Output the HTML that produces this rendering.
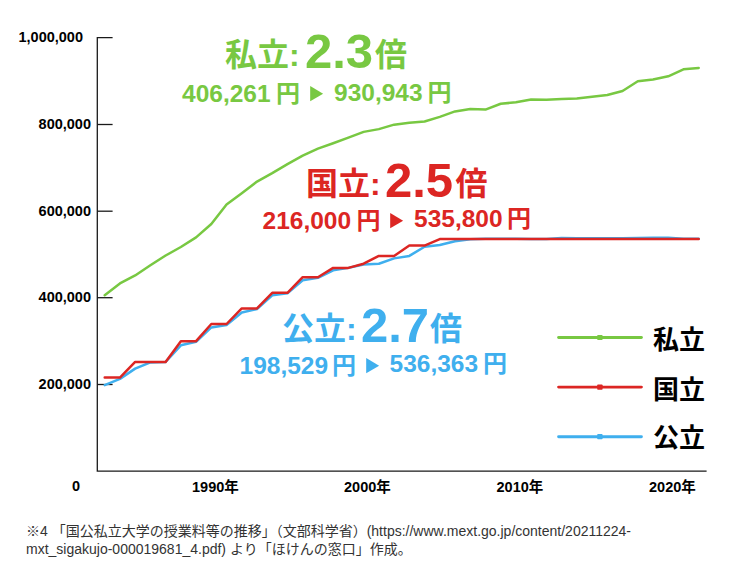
<!DOCTYPE html>
<html lang="ja"><head><meta charset="utf-8"><title>国公私立大学の授業料等の推移</title>
<style>
html,body{margin:0;padding:0;background:#fff;}
body{width:746px;height:583px;overflow:hidden;font-family:"Liberation Sans","Noto Sans CJK JP",sans-serif;}
#chart{position:relative;width:746px;height:583px;overflow:hidden;}
#chart svg{display:block;position:absolute;left:0;top:0;}
#chart svg text{font-family:"Liberation Sans","Noto Sans CJK JP",sans-serif;}
</style></head><body>
<div id="chart">
<svg width="746" height="583" viewBox="0 0 746 583" role="img" aria-label="国公私立大学の授業料等の推移">
<g fill="none" stroke="#1a1a1a" stroke-width="1.3">
<path d="M112.6 37.7H97.3V471.05H706.6"/>
<path d="M97.3 124.5H112.6"/>
<path d="M97.3 211.2H112.6"/>
<path d="M97.3 297.7H112.6"/>
<path d="M97.3 384.5H112.6"/>
</g>
<g fill="none" stroke-width="2.5" stroke-linecap="round" stroke-linejoin="round">
<polyline stroke="#3fafee" points="104.70,385.09 119.93,378.90 135.16,368.66 150.39,362.39 165.62,361.93 180.85,345.31 196.08,341.73 211.32,327.43 226.55,325.08 241.78,312.56 257.01,309.04 272.24,295.32 287.47,293.19 302.70,280.33 317.93,277.87 333.16,270.30 348.39,267.89 363.62,264.50 378.85,263.73 394.08,258.37 409.32,255.94 424.55,246.79 439.78,244.97 455.01,241.31 470.24,239.34 485.47,238.86 500.70,238.77 515.93,238.69 531.16,238.98 546.39,238.98 561.62,238.11 576.85,238.13 592.08,238.16 607.32,238.16 622.55,238.18 637.78,237.97 653.01,237.82 668.24,237.78 683.47,238.80 698.70,238.80"/>
<polyline stroke="#dc2623" points="104.70,377.52 119.93,377.52 135.16,361.93 150.39,361.93 165.62,361.93 180.85,341.15 196.08,341.15 211.32,324.00 226.55,324.00 241.78,308.42 257.01,308.42 272.24,292.83 287.47,292.83 302.70,277.24 317.93,277.24 333.16,267.89 348.39,267.89 363.62,263.73 378.85,255.94 394.08,255.94 409.32,245.54 424.55,245.54 439.78,239.05 455.01,239.05 470.24,239.05 485.47,239.05 500.70,239.05 515.93,239.05 531.16,239.05 546.39,239.05 561.62,239.05 576.85,239.05 592.08,239.05 607.32,239.05 622.55,239.05 637.78,239.05 653.01,239.05 668.24,239.05 683.47,239.05 698.70,239.05"/>
<polyline stroke="#78c842" points="104.70,295.14 119.93,283.47 135.16,275.45 150.39,265.23 165.62,255.49 180.85,247.02 196.08,237.41 211.32,223.99 226.55,204.54 241.78,193.23 257.01,181.61 272.24,173.13 287.47,164.12 302.70,155.67 317.93,148.58 333.16,143.20 348.39,137.63 363.62,131.88 378.85,129.13 394.08,124.66 409.32,122.76 424.55,121.44 439.78,116.88 455.01,111.41 470.24,108.93 485.47,109.60 500.70,103.79 515.93,102.30 531.16,99.42 546.39,99.64 561.62,98.94 576.85,98.55 592.08,96.77 607.32,95.01 622.55,90.99 637.78,81.31 653.01,79.55 668.24,76.28 683.47,69.35 698.70,67.95"/>
</g>
<path fill="#78c842" d="M310.20 85.95L323.15 93.65L310.20 101.35Z"/>
<path fill="#dc2623" d="M390.20 212.95L403.15 220.65L390.20 228.35Z"/>
<path fill="#3fafee" d="M366.20 357.95L379.15 365.65L366.20 373.35Z"/>
<path stroke="#78c842" stroke-width="2.9" stroke-linecap="round" fill="none" d="M558.6 337.50H641.4"/>
<rect x="597.2" y="334.90" width="5.4" height="5.2" rx="0.8" fill="#78c842"/>
<path stroke="#dc2623" stroke-width="2.9" stroke-linecap="round" fill="none" d="M558.6 387.10H641.4"/>
<rect x="597.2" y="384.50" width="5.4" height="5.2" rx="0.8" fill="#dc2623"/>
<path stroke="#3fafee" stroke-width="2.9" stroke-linecap="round" fill="none" d="M558.6 436.70H641.4"/>
<rect x="597.2" y="434.10" width="5.4" height="5.2" rx="0.8" fill="#3fafee"/>
<g fill="#000000" font-size="14.5" font-weight="700">
<text x="83" y="42.2" text-anchor="end">1,000,000</text>
<text x="91" y="129.25" text-anchor="end">800,000</text>
<text x="91" y="215.85" text-anchor="end">600,000</text>
<text x="91" y="302.35" text-anchor="end">400,000</text>
<text x="91" y="389.15" text-anchor="end">200,000</text>
<text x="72" y="490.5">0</text>
<text x="192" y="491.7">1990年</text>
<text x="344" y="491.7">2000年</text>
<text x="496.5" y="491.7">2010年</text>
<text x="649" y="491.7">2020年</text>
</g>
<g fill="#78c842" font-weight="700">
<text x="225" y="66" font-size="32">私立:</text>
<text x="305" y="68.1" font-size="49">2.3</text>
<text x="375" y="66" font-size="32">倍</text>
<text x="182" y="101.85" font-size="24.5">406,261<tspan x="276" font-size="24">円</tspan></text>
<text x="334" y="101.25" font-size="24.5">930,943<tspan x="427.5" font-size="24">円</tspan></text>
</g>
<g fill="#dc2623" font-weight="700">
<text x="306" y="194.7" font-size="32">国立:</text>
<text x="385" y="196.7" font-size="49">2.5</text>
<text x="455.5" y="194.7" font-size="32">倍</text>
<text x="262.5" y="229" font-size="24.5">216,000<tspan x="356.5" font-size="24">円</tspan></text>
<text x="414" y="227.4" font-size="24.5">535,800<tspan x="507" font-size="24">円</tspan></text>
</g>
<g fill="#3fafee" font-weight="700">
<text x="282" y="340.2" font-size="32">公立:</text>
<text x="361" y="342.2" font-size="49">2.7</text>
<text x="430" y="340.2" font-size="32">倍</text>
<text x="239.5" y="373.6" font-size="24.5">198,529<tspan x="332" font-size="24">円</tspan></text>
<text x="389.5" y="372.1" font-size="24.5">536,363<tspan x="483" font-size="24">円</tspan></text>
</g>
<g fill="#000000" font-size="26" font-weight="700">
<text x="653" y="349">私立</text>
<text x="653" y="398.6">国立</text>
<text x="653" y="447">公立</text>
</g>
<g fill="#333333" font-size="14">
<text x="26" y="535.6">※4 「国公私立大学の授業料等の推移」（文部科学省）(https://www.mext.go.jp/content/20211224-</text>
<text x="26" y="554.4">mxt_sigakujo-000019681_4.pdf) より「ほけんの窓口」作成。</text>
</g>
</svg>
</div>
</body></html>
